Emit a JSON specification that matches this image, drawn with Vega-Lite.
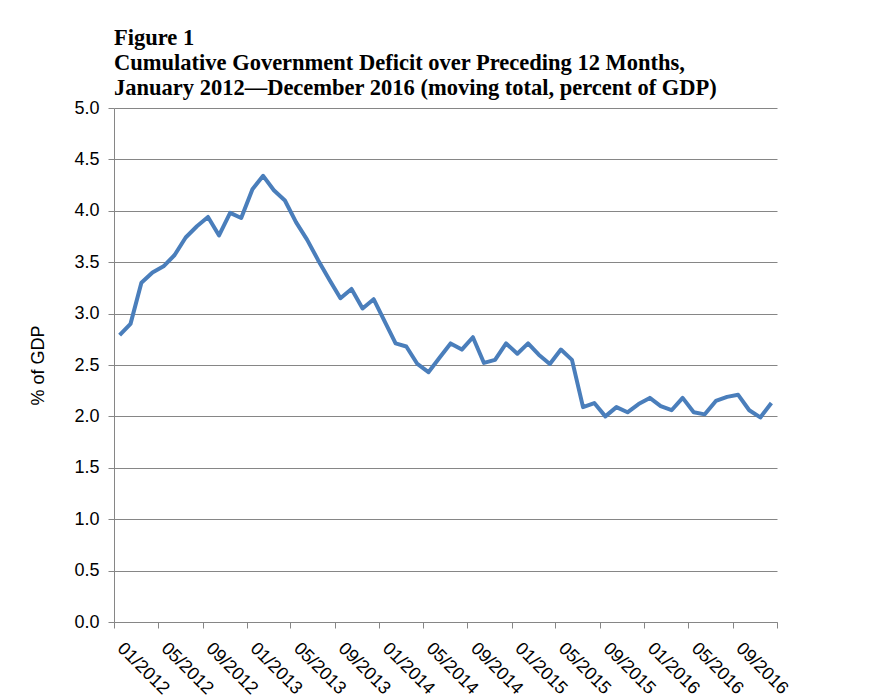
{
  "$schema": "https://vega.github.io/schema/vega-lite/v6.json",
  "width": 663,
  "height": 514,
  "autosize": {"type": "none"},
  "padding": {"left": 114, "top": 108, "right": 100, "bottom": 77},
  "background": "white",
  "title": {
    "text": [
      "Figure 1",
      "Cumulative Government  Deficit over Preceding 12 Months,",
      "January 2012\u2014December 2016  (moving total, percent of GDP)"
    ],
    "anchor": "start",
    "frame": "group",
    "font": "Liberation Serif",
    "fontSize": 22.5,
    "fontWeight": "bold",
    "color": "black",
    "lineHeight": 25,
    "offset": 0
  },
  "data": {
    "values": [
      {"month": "2012-01", "deficit": 2.79}, {"month": "2012-02", "deficit": 2.90},
      {"month": "2012-03", "deficit": 3.30}, {"month": "2012-04", "deficit": 3.40},
      {"month": "2012-05", "deficit": 3.46}, {"month": "2012-06", "deficit": 3.57},
      {"month": "2012-07", "deficit": 3.74}, {"month": "2012-08", "deficit": 3.85},
      {"month": "2012-09", "deficit": 3.94}, {"month": "2012-10", "deficit": 3.76},
      {"month": "2012-11", "deficit": 3.98}, {"month": "2012-12", "deficit": 3.93},
      {"month": "2013-01", "deficit": 4.21}, {"month": "2013-02", "deficit": 4.34},
      {"month": "2013-03", "deficit": 4.20}, {"month": "2013-04", "deficit": 4.10},
      {"month": "2013-05", "deficit": 3.89}, {"month": "2013-06", "deficit": 3.72},
      {"month": "2013-07", "deficit": 3.52}, {"month": "2013-08", "deficit": 3.33},
      {"month": "2013-09", "deficit": 3.15}, {"month": "2013-10", "deficit": 3.24},
      {"month": "2013-11", "deficit": 3.05}, {"month": "2013-12", "deficit": 3.14},
      {"month": "2014-01", "deficit": 2.92}, {"month": "2014-02", "deficit": 2.71},
      {"month": "2014-03", "deficit": 2.68}, {"month": "2014-04", "deficit": 2.51},
      {"month": "2014-05", "deficit": 2.43}, {"month": "2014-06", "deficit": 2.57},
      {"month": "2014-07", "deficit": 2.71}, {"month": "2014-08", "deficit": 2.65},
      {"month": "2014-09", "deficit": 2.77}, {"month": "2014-10", "deficit": 2.52},
      {"month": "2014-11", "deficit": 2.55}, {"month": "2014-12", "deficit": 2.71},
      {"month": "2015-01", "deficit": 2.61}, {"month": "2015-02", "deficit": 2.71},
      {"month": "2015-03", "deficit": 2.60}, {"month": "2015-04", "deficit": 2.51},
      {"month": "2015-05", "deficit": 2.65}, {"month": "2015-06", "deficit": 2.55},
      {"month": "2015-07", "deficit": 2.09}, {"month": "2015-08", "deficit": 2.13},
      {"month": "2015-09", "deficit": 2.00}, {"month": "2015-10", "deficit": 2.09},
      {"month": "2015-11", "deficit": 2.04}, {"month": "2015-12", "deficit": 2.12},
      {"month": "2016-01", "deficit": 2.18}, {"month": "2016-02", "deficit": 2.10},
      {"month": "2016-03", "deficit": 2.06}, {"month": "2016-04", "deficit": 2.18},
      {"month": "2016-05", "deficit": 2.04}, {"month": "2016-06", "deficit": 2.02},
      {"month": "2016-07", "deficit": 2.15}, {"month": "2016-08", "deficit": 2.19},
      {"month": "2016-09", "deficit": 2.21}, {"month": "2016-10", "deficit": 2.06},
      {"month": "2016-11", "deficit": 1.99}, {"month": "2016-12", "deficit": 2.13}
    ]
  },
  "mark": {"type": "line", "color": "#4A7EBB", "strokeWidth": 4, "strokeJoin": "round"},
  "encoding": {
    "x": {
      "field": "month",
      "timeUnit": "utcyearmonth",
      "type": "temporal",
      "bandPosition": 0.5,
      "scale": {
        "domain": [
          {"year": 2012, "month": 1, "date": 1, "utc": true},
          {"year": 2017, "month": 1, "date": 1, "utc": true}
        ]
      },
      "axis": {
        "title": null,
        "grid": false,
        "values": [
          {"year": 2012, "month": 1, "date": 1, "utc": true},
          {"year": 2012, "month": 5, "date": 1, "utc": true},
          {"year": 2012, "month": 9, "date": 1, "utc": true},
          {"year": 2013, "month": 1, "date": 1, "utc": true},
          {"year": 2013, "month": 5, "date": 1, "utc": true},
          {"year": 2013, "month": 9, "date": 1, "utc": true},
          {"year": 2014, "month": 1, "date": 1, "utc": true},
          {"year": 2014, "month": 5, "date": 1, "utc": true},
          {"year": 2014, "month": 9, "date": 1, "utc": true},
          {"year": 2015, "month": 1, "date": 1, "utc": true},
          {"year": 2015, "month": 5, "date": 1, "utc": true},
          {"year": 2015, "month": 9, "date": 1, "utc": true},
          {"year": 2016, "month": 1, "date": 1, "utc": true},
          {"year": 2016, "month": 5, "date": 1, "utc": true},
          {"year": 2016, "month": 9, "date": 1, "utc": true},
          {"year": 2017, "month": 1, "date": 1, "utc": true}
        ],
        "labelExpr": "utcyear(datum.value) > 2016 ? '' : utcFormat(datum.value, '%m/%Y')",
        "labelAngle": 45,
        "labelAlign": "left",
        "labelBaseline": "top",
        "labelPadding": 11,
        "labelOffset": 12,
        "tickSize": 6,
        "labelOverlap": false,
        "labelFlush": false
      }
    },
    "y": {
      "field": "deficit",
      "type": "quantitative",
      "scale": {"domain": [0, 5], "nice": false, "zero": true},
      "axis": {
        "title": "% of GDP",
        "values": [0, 0.5, 1, 1.5, 2, 2.5, 3, 3.5, 4, 4.5, 5],
        "format": ".1f",
        "tickSize": 6,
        "labelPadding": 9,
        "titlePadding": 26,
        "grid": true
      }
    }
  },
  "config": {
    "view": {"stroke": null},
    "axis": {
      "domainColor": "#868686",
      "tickColor": "#868686",
      "gridColor": "#868686",
      "gridOpacity": 1,
      "domainWidth": 1,
      "tickWidth": 1,
      "gridWidth": 1,
      "labelFont": "Liberation Sans",
      "labelFontSize": 18,
      "labelColor": "black",
      "titleFont": "Liberation Sans",
      "titleFontSize": 18,
      "titleFontWeight": "normal",
      "titleColor": "black"
    }
  }
}
